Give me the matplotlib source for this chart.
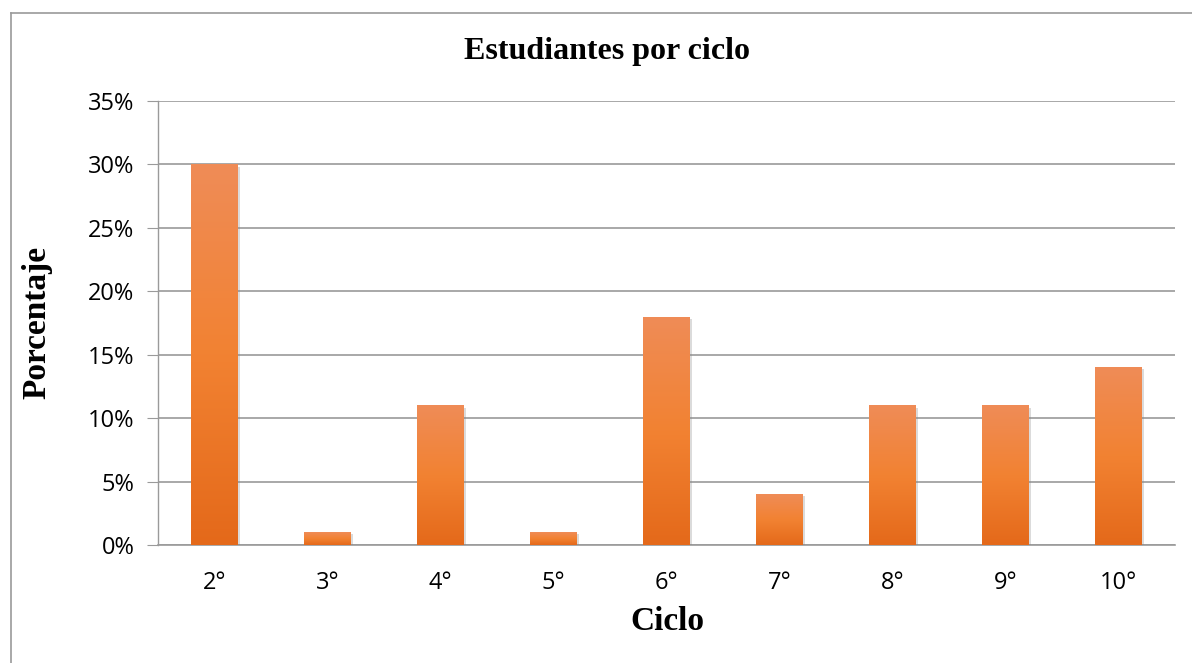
import matplotlib
matplotlib.use("Agg")
import matplotlib.pyplot as plt
import numpy as np
from matplotlib.colors import LinearSegmentedColormap
from matplotlib.lines import Line2D
import matplotlib.patheffects as pe

categories = ["2°", "3°", "4°", "5°", "6°", "7°", "8°", "9°", "10°"]
values = [30, 1, 11, 1, 18, 4, 11, 11, 14]
yticks = [0, 5, 10, 15, 20, 25, 30, 35]
ytick_labels = ["0%", "5%", "10%", "15%", "20%", "25%", "30%", "35%"]

W, H = 1192, 663
fig = plt.figure(figsize=(W / 100, H / 100), dpi=100)
# outer chart border (only top and left visible)
bx0, by0 = 10.5 / W, 1 - 12.5 / H
fig.lines.append(Line2D([bx0, bx0], [-0.01, by0], transform=fig.transFigure,
                        color="#9a9a9a", linewidth=1.2))
fig.lines.append(Line2D([bx0, 1.01], [by0, by0], transform=fig.transFigure,
                        color="#9a9a9a", linewidth=1.2))

left, right, top, bottom = 158, 1175, 101, 545
ax = fig.add_axes([left / W, 1 - bottom / H, (right - left) / W, (bottom - top) / H])

x = np.arange(len(categories))
ax.set_xlim(-0.5, len(categories) - 0.5)
ax.set_ylim(0, 35)

cmap = LinearSegmentedColormap.from_list("g", ["#E4691A", "#F28232", "#EF8C57"])
grad = np.linspace(0, 1, 256).reshape(-1, 1)
bw = 0.41
bars = ax.bar(x, values, width=bw, color="#F07B2E", zorder=3, linewidth=0,
              path_effects=[pe.SimplePatchShadow(offset=(1.5, -1.5), shadow_rgbFace="#888888", alpha=0.3),
                            pe.Normal()])
for b in bars:
    bx, by = b.get_x(), b.get_y()
    h = b.get_height()
    im = ax.imshow(grad, cmap=cmap, origin="lower", aspect="auto",
                   extent=[bx, bx + bw, 0, h], zorder=4)
    im.set_clip_path(b)

ax.set_yticks(yticks)
ax.set_yticklabels(ytick_labels)
ax.set_xticks(x)
ax.set_xticklabels(categories)
ax.grid(axis="y", color="#9a9a9a", linewidth=1.2, zorder=0)
ax.set_axisbelow(True)
for s in ["top", "right"]:
    ax.spines[s].set_visible(False)
ax.spines["left"].set_color("#9a9a9a")
ax.spines["bottom"].set_color("#9a9a9a")
ax.spines["left"].set_linewidth(1.0)
ax.spines["bottom"].set_linewidth(1.2)
ax.tick_params(axis="y", length=8, color="#9a9a9a", labelsize=17, pad=9)
ax.tick_params(axis="x", length=0, labelsize=17, pad=19)
for t in ax.get_xticklabels() + ax.get_yticklabels():
    t.set_fontfamily("Open Sans")
    t.set_color("#000000")

fig.text(607 / W, 1 - 52 / H, "Estudiantes por ciclo", ha="center", va="center",
         fontsize=23, fontweight="bold", fontfamily="Liberation Serif")
fig.text(667 / W, 1 - 622 / H, "Ciclo", ha="center", va="center",
         fontsize=24, fontweight="bold", fontfamily="Liberation Serif")
fig.text(37 / W, 1 - 322 / H, "Porcentaje", ha="center", va="center", rotation=90,
         fontsize=24, fontweight="bold", fontfamily="Liberation Serif")

fig.savefig("out.png", dpi=100)
